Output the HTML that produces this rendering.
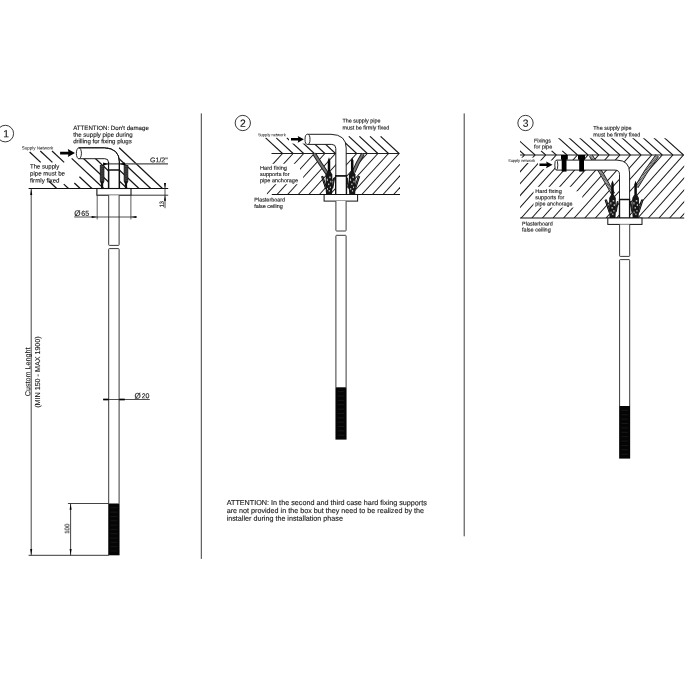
<!DOCTYPE html>
<html lang="en"><head><meta charset="utf-8"><title>Installation diagram</title>
<style>html,body{margin:0;padding:0;background:#fff;overflow:hidden}svg{display:block}</style>
</head><body>
<svg width="700" height="700" viewBox="0 0 700 700" font-family="'Liberation Sans', sans-serif" shape-rendering="geometricPrecision" text-rendering="geometricPrecision">
<defs><filter id="tf" x="0" y="0" width="700" height="700" filterUnits="userSpaceOnUse" color-interpolation-filters="sRGB"><feGaussianBlur stdDeviation="0.22"/></filter><clipPath id="c1"><rect x="27" y="147.8" width="141" height="40.9"/></clipPath><clipPath id="c2u"><rect x="262" y="136.0" width="140" height="17.5"/></clipPath><clipPath id="c2l"><rect x="266.8" y="153.5" width="133.2" height="41"/></clipPath><clipPath id="c3u"><rect x="520" y="138.3" width="165" height="16.7"/></clipPath><clipPath id="c3l"><rect x="520" y="155" width="164.2" height="63.2"/></clipPath></defs>
<rect width="700" height="700" fill="#fff"/>
<line x1="201.30" y1="113.40" x2="201.30" y2="558.90" stroke="#3c3c3c" stroke-width="1.0" />
<line x1="464.20" y1="113.40" x2="464.20" y2="536.30" stroke="#3c3c3c" stroke-width="1.0" />
<line x1="49.04" y1="181.30" x2="56.70" y2="188.50" stroke="#141414" stroke-width="1.2" />
<line x1="29.62" y1="152.00" x2="40.68" y2="162.40" stroke="#141414" stroke-width="1.2" />
<line x1="63.77" y1="184.10" x2="68.45" y2="188.50" stroke="#141414" stroke-width="1.2" />
<line x1="40.31" y1="151.00" x2="52.43" y2="162.40" stroke="#141414" stroke-width="1.2" />
<line x1="74.35" y1="183.00" x2="80.20" y2="188.50" stroke="#141414" stroke-width="1.2" />
<line x1="52.06" y1="151.00" x2="64.18" y2="162.40" stroke="#141414" stroke-width="1.2" />
<line x1="79.40" y1="176.70" x2="91.95" y2="188.50" stroke="#141414" stroke-width="1.2" />
<line x1="71.68" y1="158.40" x2="103.70" y2="188.50" stroke="#141414" stroke-width="1.2" />
<line x1="83.54" y1="158.50" x2="115.45" y2="188.50" stroke="#141414" stroke-width="1.2" />
<line x1="83.90" y1="147.80" x2="127.20" y2="188.50" stroke="#141414" stroke-width="1.2" />
<line x1="95.65" y1="147.80" x2="138.95" y2="188.50" stroke="#141414" stroke-width="1.2" />
<line x1="107.40" y1="147.80" x2="150.70" y2="188.50" stroke="#141414" stroke-width="1.2" />
<line x1="119.15" y1="147.80" x2="162.45" y2="188.50" stroke="#141414" stroke-width="1.2" />
<path d="M78.8,147.8 L104.5,147.8 Q119.4,148.4 119.4,162 L119.4,188.5 L108.5,188.5 L108.5,162.2 Q108.4,158.7 104.8,158.7 L78.8,158.7 Z" fill="#fff" stroke="none"/>
<path d="M78.8,147.8 L104.5,147.8 Q119.4,148.4 119.4,162 L119.4,188.5 M108.5,188.5 L108.5,162.2 Q108.4,158.7 104.8,158.7 L78.8,158.7" fill="none" stroke="#141414" stroke-width="0.95"/>
<ellipse cx="78.9" cy="153.3" rx="2.55" ry="5.5" fill="#fff" stroke="#141414" stroke-width="0.9"/>
<line x1="103.30" y1="163.90" x2="168.00" y2="163.90" stroke="#4a4a4a" stroke-width="1.1" />
<path d="M108.30,163.90 L103.10,165.40 L103.10,162.40 Z" fill="#000"/>
<path d="M119.60,163.90 L125.00,162.40 L125.00,165.40 Z" fill="#000"/>
<path d="M78.8,147.8 L104.5,147.8 Q119.4,148.4 119.4,162 L119.4,170" fill="none" stroke="#141414" stroke-width="0.95"/>
<path d="M108.6,188.5 L108.6,170 L119.4,170 L119.4,188.5" fill="#fff" stroke="#111" stroke-width="1.35"/>
<line x1="108.55" y1="162.00" x2="108.55" y2="188.50" stroke="#111" stroke-width="1.2" />
<line x1="119.40" y1="162.00" x2="119.40" y2="188.50" stroke="#111" stroke-width="1.2" />
<rect x="100.20" y="165.60" width="3.8" height="16.00" fill="#4a4a4a" stroke="#111" stroke-width="0.7"/>
<line x1="100.50" y1="167.10" x2="103.70" y2="167.90" stroke="#111" stroke-width="0.5"/>
<line x1="100.50" y1="168.80" x2="103.70" y2="169.60" stroke="#111" stroke-width="0.5"/>
<line x1="100.50" y1="170.50" x2="103.70" y2="171.30" stroke="#111" stroke-width="0.5"/>
<line x1="100.50" y1="172.20" x2="103.70" y2="173.00" stroke="#111" stroke-width="0.5"/>
<line x1="100.50" y1="173.90" x2="103.70" y2="174.70" stroke="#111" stroke-width="0.5"/>
<line x1="100.50" y1="175.60" x2="103.70" y2="176.40" stroke="#111" stroke-width="0.5"/>
<line x1="100.50" y1="177.30" x2="103.70" y2="178.10" stroke="#111" stroke-width="0.5"/>
<line x1="100.50" y1="179.00" x2="103.70" y2="179.80" stroke="#111" stroke-width="0.5"/>
<line x1="100.50" y1="180.70" x2="103.70" y2="181.50" stroke="#111" stroke-width="0.5"/>
<rect x="101.00" y="181.60" width="2.2" height="6.90" fill="#111"/>
<rect x="100.40" y="181.60" width="3.4" height="1.6" fill="#111"/>
<rect x="124.10" y="165.60" width="3.8" height="16.00" fill="#4a4a4a" stroke="#111" stroke-width="0.7"/>
<line x1="124.40" y1="167.10" x2="127.60" y2="167.90" stroke="#111" stroke-width="0.5"/>
<line x1="124.40" y1="168.80" x2="127.60" y2="169.60" stroke="#111" stroke-width="0.5"/>
<line x1="124.40" y1="170.50" x2="127.60" y2="171.30" stroke="#111" stroke-width="0.5"/>
<line x1="124.40" y1="172.20" x2="127.60" y2="173.00" stroke="#111" stroke-width="0.5"/>
<line x1="124.40" y1="173.90" x2="127.60" y2="174.70" stroke="#111" stroke-width="0.5"/>
<line x1="124.40" y1="175.60" x2="127.60" y2="176.40" stroke="#111" stroke-width="0.5"/>
<line x1="124.40" y1="177.30" x2="127.60" y2="178.10" stroke="#111" stroke-width="0.5"/>
<line x1="124.40" y1="179.00" x2="127.60" y2="179.80" stroke="#111" stroke-width="0.5"/>
<line x1="124.40" y1="180.70" x2="127.60" y2="181.50" stroke="#111" stroke-width="0.5"/>
<rect x="124.90" y="181.60" width="2.2" height="6.90" fill="#111"/>
<rect x="124.30" y="181.60" width="3.4" height="1.6" fill="#111"/>
<line x1="28.60" y1="188.50" x2="168.20" y2="188.50" stroke="#111" stroke-width="1.1" />
<rect x="96.90" y="188.50" width="34.10" height="6.70" fill="#fff" stroke="#111" stroke-width="1.1" />
<line x1="131.00" y1="195.20" x2="168.20" y2="195.20" stroke="#222" stroke-width="0.9" />
<line x1="97.20" y1="195.20" x2="97.20" y2="219.40" stroke="#333" stroke-width="0.8" />
<line x1="130.90" y1="195.20" x2="130.90" y2="219.40" stroke="#333" stroke-width="0.8" />
<path d="M108.7,195.2 L108.7,244.8 Q108.7,245.4 109.3,245.4 L118.5,245.4 Q119.1,245.4 119.1,244.8 L119.1,195.2" fill="#fff" stroke="#3a3a3a" stroke-width="1.0"/>
<path d="M108.7,503.5 L108.7,249.2 Q108.7,248.6 109.3,248.6 L118.5,248.6 Q119.1,248.6 119.1,249.2 L119.1,503.5" fill="#fff" stroke="#3a3a3a" stroke-width="1.0"/>
<rect x="108.25" y="503.50" width="11.30" height="51.80" fill="#050505"/>
<line x1="110.50" y1="507.82" x2="117.30" y2="507.82" stroke="#2b2b2b" stroke-width="0.5"/>
<line x1="110.50" y1="512.13" x2="117.30" y2="512.13" stroke="#2b2b2b" stroke-width="0.5"/>
<line x1="110.50" y1="516.45" x2="117.30" y2="516.45" stroke="#2b2b2b" stroke-width="0.5"/>
<line x1="110.50" y1="520.77" x2="117.30" y2="520.77" stroke="#2b2b2b" stroke-width="0.5"/>
<line x1="110.50" y1="525.08" x2="117.30" y2="525.08" stroke="#2b2b2b" stroke-width="0.5"/>
<line x1="110.50" y1="529.40" x2="117.30" y2="529.40" stroke="#2b2b2b" stroke-width="0.5"/>
<line x1="110.50" y1="533.72" x2="117.30" y2="533.72" stroke="#2b2b2b" stroke-width="0.5"/>
<line x1="110.50" y1="538.03" x2="117.30" y2="538.03" stroke="#2b2b2b" stroke-width="0.5"/>
<line x1="110.50" y1="542.35" x2="117.30" y2="542.35" stroke="#2b2b2b" stroke-width="0.5"/>
<line x1="110.50" y1="546.67" x2="117.30" y2="546.67" stroke="#2b2b2b" stroke-width="0.5"/>
<line x1="110.50" y1="550.98" x2="117.30" y2="550.98" stroke="#2b2b2b" stroke-width="0.5"/>
<line x1="74.30" y1="217.00" x2="136.20" y2="217.00" stroke="#222" stroke-width="0.8" />
<path d="M97.20,217.00 L91.60,218.00 L91.60,216.00 Z" fill="#000"/>
<path d="M130.90,217.00 L136.50,216.00 L136.50,218.00 Z" fill="#000"/>
<line x1="165.00" y1="183.20" x2="165.00" y2="208.20" stroke="#222" stroke-width="0.8" />
<path d="M165.00,188.50 L164.00,182.90 L166.00,182.90 Z" fill="#000"/>
<path d="M165.00,195.20 L166.00,200.80 L164.00,200.80 Z" fill="#000"/>
<line x1="31.20" y1="188.50" x2="31.20" y2="555.30" stroke="#222" stroke-width="0.85" />
<path d="M31.20,188.90 L32.20,194.90 L30.20,194.90 Z" fill="#000"/>
<path d="M31.20,555.00 L30.20,549.00 L32.20,549.00 Z" fill="#000"/>
<line x1="28.60" y1="555.30" x2="108.80" y2="555.30" stroke="#222" stroke-width="0.9" />
<line x1="67.90" y1="503.50" x2="108.80" y2="503.50" stroke="#222" stroke-width="0.85" />
<line x1="70.60" y1="503.50" x2="70.60" y2="555.30" stroke="#222" stroke-width="0.85" />
<path d="M70.60,503.80 L71.60,509.80 L69.60,509.80 Z" fill="#000"/>
<path d="M70.60,555.00 L69.60,549.00 L71.60,549.00 Z" fill="#000"/>
<line x1="103.20" y1="399.50" x2="149.80" y2="399.50" stroke="#222" stroke-width="0.8" />
<line x1="103.20" y1="399.50" x2="108.60" y2="399.50" stroke="#000" stroke-width="1.7" />
<line x1="119.30" y1="399.50" x2="124.80" y2="399.50" stroke="#000" stroke-width="1.7" />
<path d="M60.10,151.70 L68.40,151.70 L67.80,149.10 L75.00,153.10 L67.80,157.10 L68.40,154.50 L60.10,154.50 Z" fill="#000"/>
<circle cx="5.3" cy="133.6" r="8.3" fill="#fff" stroke="#222" stroke-width="0.9"/>
<g clip-path="url(#c2u)">
<line x1="265.62" y1="137.80" x2="282.50" y2="153.50" stroke="#141414" stroke-width="1.05" />
<line x1="276.22" y1="137.80" x2="293.10" y2="153.50" stroke="#141414" stroke-width="1.05" />
<line x1="286.82" y1="137.80" x2="303.70" y2="153.50" stroke="#141414" stroke-width="1.05" />
<line x1="295.81" y1="136.30" x2="314.30" y2="153.50" stroke="#141414" stroke-width="1.05" />
<line x1="306.41" y1="136.30" x2="324.90" y2="153.50" stroke="#141414" stroke-width="1.05" />
<line x1="317.01" y1="136.30" x2="335.50" y2="153.50" stroke="#141414" stroke-width="1.05" />
<line x1="327.61" y1="136.30" x2="346.10" y2="153.50" stroke="#141414" stroke-width="1.05" />
<line x1="338.21" y1="136.30" x2="356.70" y2="153.50" stroke="#141414" stroke-width="1.05" />
<line x1="348.81" y1="136.30" x2="367.30" y2="153.50" stroke="#141414" stroke-width="1.05" />
<line x1="359.41" y1="136.30" x2="377.90" y2="153.50" stroke="#141414" stroke-width="1.05" />
<line x1="370.01" y1="136.30" x2="388.50" y2="153.50" stroke="#141414" stroke-width="1.05" />
<line x1="380.61" y1="136.30" x2="399.10" y2="153.50" stroke="#141414" stroke-width="1.05" />
</g>
<g clip-path="url(#c2l)">
<line x1="282.50" y1="153.50" x2="245.23" y2="194.50" stroke="#141414" stroke-width="1.05" />
<line x1="293.10" y1="153.50" x2="255.83" y2="194.50" stroke="#141414" stroke-width="1.05" />
<line x1="303.70" y1="153.50" x2="266.43" y2="194.50" stroke="#141414" stroke-width="1.05" />
<line x1="314.30" y1="153.50" x2="277.03" y2="194.50" stroke="#141414" stroke-width="1.05" />
<line x1="324.90" y1="153.50" x2="287.63" y2="194.50" stroke="#141414" stroke-width="1.05" />
<line x1="335.50" y1="153.50" x2="298.23" y2="194.50" stroke="#141414" stroke-width="1.05" />
<line x1="346.10" y1="153.50" x2="308.83" y2="194.50" stroke="#141414" stroke-width="1.05" />
<line x1="356.70" y1="153.50" x2="319.43" y2="194.50" stroke="#141414" stroke-width="1.05" />
<line x1="367.30" y1="153.50" x2="330.03" y2="194.50" stroke="#141414" stroke-width="1.05" />
<line x1="377.90" y1="153.50" x2="340.63" y2="194.50" stroke="#141414" stroke-width="1.05" />
<line x1="388.50" y1="153.50" x2="351.23" y2="194.50" stroke="#141414" stroke-width="1.05" />
<line x1="399.10" y1="153.50" x2="361.83" y2="194.50" stroke="#141414" stroke-width="1.05" />
<line x1="409.70" y1="153.50" x2="372.43" y2="194.50" stroke="#141414" stroke-width="1.05" />
<line x1="420.30" y1="153.50" x2="383.03" y2="194.50" stroke="#141414" stroke-width="1.05" />
<line x1="430.90" y1="153.50" x2="393.63" y2="194.50" stroke="#141414" stroke-width="1.05" />
<line x1="441.50" y1="153.50" x2="404.23" y2="194.50" stroke="#141414" stroke-width="1.05" />
</g>
<line x1="271.50" y1="153.50" x2="399.60" y2="153.50" stroke="#141414" stroke-width="0.95" />
<rect x="256.00" y="131.50" width="31.50" height="5.90" fill="#fff"/>
<rect x="289.00" y="135.00" width="15.50" height="8.60" fill="#fff"/>
<rect x="258.00" y="163.80" width="42.00" height="20.40" fill="#fff"/>
<rect x="299.00" y="171.50" width="4.20" height="12.70" fill="#fff"/>
<path d="M314.20,153.80 Q320.38,164.08 327.40,173.80" fill="none" stroke="#1a1a1a" stroke-width="3.90"/>
<path d="M314.20,153.80 Q320.38,164.08 327.40,173.80" fill="none" stroke="#747474" stroke-width="2.10"/>
<path d="M363.00,153.80 Q357.59,162.53 353.60,172.00" fill="none" stroke="#1a1a1a" stroke-width="3.90"/>
<path d="M363.00,153.80 Q357.59,162.53 353.60,172.00" fill="none" stroke="#747474" stroke-width="2.10"/>
<path d="M307.5,134.3 L331,134.3 Q346.2,134.6 346.2,148 L346.2,176 L335.8,176 L335.8,148.4 Q335.8,144.4 331.8,144.4 L307.5,144.4 Z" fill="#fff"/>
<path d="M307.5,134.3 L331,134.3 Q346.2,134.6 346.2,148 L346.2,176 M335.8,176 L335.8,148.4 Q335.8,144.4 331.8,144.4 L307.5,144.4" fill="none" stroke="#141414" stroke-width="0.95"/>
<ellipse cx="307.5" cy="139.35" rx="2.5" ry="5.1" fill="#fff" stroke="#141414" stroke-width="0.9"/>
<path d="M335.7,194.5 L335.7,176 L346.4,176 L346.4,194.5" fill="#fff" stroke="#111" stroke-width="1.35"/>
<path d="M329.00,157.30 L330.25,160.70 L330.25,172.40 L327.75,172.40 L327.75,160.70 Z" fill="#0a0a0a"/>
<path d="M327.40,171.40 L330.60,171.40 L332.30,174.60 L332.40,188.50 L331.90,194.50 L326.10,194.50 L325.60,188.50 L325.70,174.60 Z" fill="#161616"/>
<rect x="329.20" y="176.50" width="1.5" height="1.6" fill="#b9b9b9"/>
<rect x="326.80" y="178.70" width="1.1" height="2.2" fill="#b9b9b9"/>
<rect x="330.20" y="180.70" width="1.2" height="1.8" fill="#b9b9b9"/>
<rect x="328.00" y="183.50" width="1.3" height="1.6" fill="#b9b9b9"/>
<rect x="329.80" y="186.50" width="1.2" height="1.6" fill="#b9b9b9"/>
<rect x="327.00" y="188.00" width="1.0" height="1.8" fill="#b9b9b9"/>
<rect x="328.70" y="190.00" width="1.2" height="1.6" fill="#b9b9b9"/>
<path d="M321.60,176.60 L323.00,176.30 L326.40,187.70 L325.60,188.90 Z" fill="#7a7a7a" stroke="#0d0d0d" stroke-width="1.0"/>
<path d="M334.60,178.20 L333.70,178.00 L332.20,188.00 L332.80,188.30 Z" fill="#6a6a6a" stroke="#0d0d0d" stroke-width="0.9"/>
<path d="M352.20,157.30 L353.45,160.70 L353.45,172.40 L350.95,172.40 L350.95,160.70 Z" fill="#0a0a0a"/>
<path d="M350.60,171.40 L353.80,171.40 L355.50,174.60 L355.60,188.50 L355.10,194.50 L349.30,194.50 L348.80,188.50 L348.90,174.60 Z" fill="#161616"/>
<rect x="352.40" y="176.50" width="1.5" height="1.6" fill="#b9b9b9"/>
<rect x="350.00" y="178.70" width="1.1" height="2.2" fill="#b9b9b9"/>
<rect x="353.40" y="180.70" width="1.2" height="1.8" fill="#b9b9b9"/>
<rect x="351.20" y="183.50" width="1.3" height="1.6" fill="#b9b9b9"/>
<rect x="353.00" y="186.50" width="1.2" height="1.6" fill="#b9b9b9"/>
<rect x="350.20" y="188.00" width="1.0" height="1.8" fill="#b9b9b9"/>
<rect x="351.90" y="190.00" width="1.2" height="1.6" fill="#b9b9b9"/>
<path d="M359.60,176.60 L358.20,176.30 L354.80,187.70 L355.60,188.90 Z" fill="#7a7a7a" stroke="#0d0d0d" stroke-width="1.0"/>
<path d="M346.60,178.20 L347.50,178.00 L349.00,188.00 L348.40,188.30 Z" fill="#6a6a6a" stroke="#0d0d0d" stroke-width="0.9"/>
<path d="M335.7,194.5 L335.7,176 L346.4,176 L346.4,194.5" fill="#fff" stroke="#111" stroke-width="1.35"/>
<line x1="271.80" y1="194.50" x2="400.00" y2="194.50" stroke="#111" stroke-width="1.1" />
<rect x="324.10" y="194.50" width="33.50" height="6.60" fill="#fff" stroke="#111" stroke-width="1.0" />
<path d="M335.9,201.1 L335.9,230.4 Q335.9,231.0 336.5,231.0 L345.5,231.0 Q346.1,231.0 346.1,230.4 L346.1,201.1" fill="#fff" stroke="#3a3a3a" stroke-width="1.0"/>
<path d="M335.9,387.3 L335.9,235.9 Q335.9,235.3 336.5,235.3 L345.5,235.3 Q346.1,235.3 346.1,235.9 L346.1,387.3" fill="#fff" stroke="#3a3a3a" stroke-width="1.0"/>
<rect x="335.45" y="387.30" width="11.10" height="52.30" fill="#050505"/>
<line x1="337.70" y1="391.66" x2="344.30" y2="391.66" stroke="#2b2b2b" stroke-width="0.5"/>
<line x1="337.70" y1="396.02" x2="344.30" y2="396.02" stroke="#2b2b2b" stroke-width="0.5"/>
<line x1="337.70" y1="400.38" x2="344.30" y2="400.38" stroke="#2b2b2b" stroke-width="0.5"/>
<line x1="337.70" y1="404.73" x2="344.30" y2="404.73" stroke="#2b2b2b" stroke-width="0.5"/>
<line x1="337.70" y1="409.09" x2="344.30" y2="409.09" stroke="#2b2b2b" stroke-width="0.5"/>
<line x1="337.70" y1="413.45" x2="344.30" y2="413.45" stroke="#2b2b2b" stroke-width="0.5"/>
<line x1="337.70" y1="417.81" x2="344.30" y2="417.81" stroke="#2b2b2b" stroke-width="0.5"/>
<line x1="337.70" y1="422.17" x2="344.30" y2="422.17" stroke="#2b2b2b" stroke-width="0.5"/>
<line x1="337.70" y1="426.53" x2="344.30" y2="426.53" stroke="#2b2b2b" stroke-width="0.5"/>
<line x1="337.70" y1="430.88" x2="344.30" y2="430.88" stroke="#2b2b2b" stroke-width="0.5"/>
<line x1="337.70" y1="435.24" x2="344.30" y2="435.24" stroke="#2b2b2b" stroke-width="0.5"/>
<path d="M291.00,138.10 L298.30,138.10 L297.70,135.90 L303.90,139.30 L297.70,142.70 L298.30,140.50 L291.00,140.50 Z" fill="#000"/>
<circle cx="242.8" cy="123.0" r="7.65" fill="#fff" stroke="#222" stroke-width="0.9"/>
<g clip-path="url(#c3u)">
<line x1="505.06" y1="137.50" x2="524.50" y2="155.00" stroke="#141414" stroke-width="1.05" />
<line x1="515.66" y1="137.50" x2="535.10" y2="155.00" stroke="#141414" stroke-width="1.05" />
<line x1="541.03" y1="150.80" x2="545.70" y2="155.00" stroke="#141414" stroke-width="1.05" />
<line x1="551.63" y1="150.80" x2="556.30" y2="155.00" stroke="#141414" stroke-width="1.05" />
<line x1="562.23" y1="150.80" x2="566.90" y2="155.00" stroke="#141414" stroke-width="1.05" />
<line x1="558.06" y1="137.50" x2="577.50" y2="155.00" stroke="#141414" stroke-width="1.05" />
<line x1="568.66" y1="137.50" x2="588.10" y2="155.00" stroke="#141414" stroke-width="1.05" />
<line x1="579.26" y1="137.50" x2="598.70" y2="155.00" stroke="#141414" stroke-width="1.05" />
<line x1="589.86" y1="137.50" x2="609.30" y2="155.00" stroke="#141414" stroke-width="1.05" />
<line x1="600.46" y1="137.50" x2="619.90" y2="155.00" stroke="#141414" stroke-width="1.05" />
<line x1="611.06" y1="137.50" x2="630.50" y2="155.00" stroke="#141414" stroke-width="1.05" />
<line x1="621.66" y1="137.50" x2="641.10" y2="155.00" stroke="#141414" stroke-width="1.05" />
<line x1="632.26" y1="137.50" x2="651.70" y2="155.00" stroke="#141414" stroke-width="1.05" />
<line x1="642.86" y1="137.50" x2="662.30" y2="155.00" stroke="#141414" stroke-width="1.05" />
<line x1="653.46" y1="137.50" x2="672.90" y2="155.00" stroke="#141414" stroke-width="1.05" />
<line x1="664.06" y1="137.50" x2="683.50" y2="155.00" stroke="#141414" stroke-width="1.05" />
</g>
<g clip-path="url(#c3l)">
<line x1="524.50" y1="155.00" x2="468.25" y2="218.00" stroke="#141414" stroke-width="1.05" />
<line x1="535.10" y1="155.00" x2="478.85" y2="218.00" stroke="#141414" stroke-width="1.05" />
<line x1="545.70" y1="155.00" x2="489.45" y2="218.00" stroke="#141414" stroke-width="1.05" />
<line x1="556.30" y1="155.00" x2="500.05" y2="218.00" stroke="#141414" stroke-width="1.05" />
<line x1="566.90" y1="155.00" x2="510.65" y2="218.00" stroke="#141414" stroke-width="1.05" />
<line x1="577.50" y1="155.00" x2="521.25" y2="218.00" stroke="#141414" stroke-width="1.05" />
<line x1="588.10" y1="155.00" x2="531.85" y2="218.00" stroke="#141414" stroke-width="1.05" />
<line x1="598.70" y1="155.00" x2="542.45" y2="218.00" stroke="#141414" stroke-width="1.05" />
<line x1="609.30" y1="155.00" x2="553.05" y2="218.00" stroke="#141414" stroke-width="1.05" />
<line x1="619.90" y1="155.00" x2="563.65" y2="218.00" stroke="#141414" stroke-width="1.05" />
<line x1="630.50" y1="155.00" x2="574.25" y2="218.00" stroke="#141414" stroke-width="1.05" />
<line x1="641.10" y1="155.00" x2="584.85" y2="218.00" stroke="#141414" stroke-width="1.05" />
<line x1="651.70" y1="155.00" x2="595.45" y2="218.00" stroke="#141414" stroke-width="1.05" />
<line x1="662.30" y1="155.00" x2="606.05" y2="218.00" stroke="#141414" stroke-width="1.05" />
<line x1="672.90" y1="155.00" x2="616.65" y2="218.00" stroke="#141414" stroke-width="1.05" />
<line x1="683.50" y1="155.00" x2="627.25" y2="218.00" stroke="#141414" stroke-width="1.05" />
<line x1="694.10" y1="155.00" x2="637.85" y2="218.00" stroke="#141414" stroke-width="1.05" />
<line x1="704.70" y1="155.00" x2="648.45" y2="218.00" stroke="#141414" stroke-width="1.05" />
<line x1="715.30" y1="155.00" x2="659.05" y2="218.00" stroke="#141414" stroke-width="1.05" />
<line x1="725.90" y1="155.00" x2="669.65" y2="218.00" stroke="#141414" stroke-width="1.05" />
<line x1="736.50" y1="155.00" x2="680.25" y2="218.00" stroke="#141414" stroke-width="1.05" />
<line x1="747.10" y1="155.00" x2="690.85" y2="218.00" stroke="#141414" stroke-width="1.05" />
</g>
<line x1="520.00" y1="155.00" x2="683.80" y2="155.00" stroke="#141414" stroke-width="0.95" />
<rect x="506.00" y="157.60" width="30.00" height="5.40" fill="#fff"/>
<rect x="538.00" y="160.50" width="15.50" height="8.70" fill="#fff"/>
<rect x="533.50" y="186.80" width="41.00" height="20.80" fill="#fff"/>
<rect x="574.00" y="191.30" width="8.30" height="16.30" fill="#fff"/>
<path d="M590.80,155.50 Q602.43,174.50 613.20,194.00" fill="none" stroke="#1a1a1a" stroke-width="4.10"/>
<path d="M590.80,155.50 Q602.43,174.50 613.20,194.00" fill="none" stroke="#747474" stroke-width="2.30"/>
<path d="M590.80,155.50 Q602.43,174.50 613.20,194.00" fill="none" stroke="#c4c4c4" stroke-width="2.30"/>
<path d="M590.80,155.50 Q602.43,174.50 613.20,194.00" fill="none" stroke="#1a1a1a" stroke-width="2.30" stroke-dasharray="0.55 0.9"/>
<path d="M657.30,155.50 Q645.90,170.59 636.50,187.00" fill="none" stroke="#1a1a1a" stroke-width="4.10"/>
<path d="M657.30,155.50 Q645.90,170.59 636.50,187.00" fill="none" stroke="#747474" stroke-width="2.30"/>
<path d="M657.30,155.50 Q645.90,170.59 636.50,187.00" fill="none" stroke="#c4c4c4" stroke-width="2.30"/>
<path d="M657.30,155.50 Q645.90,170.59 636.50,187.00" fill="none" stroke="#1a1a1a" stroke-width="2.30" stroke-dasharray="0.55 0.9"/>
<path d="M556.3,160.1 L617,160.1 Q629.6,160.4 629.6,173 L629.6,199.5 L619.5,199.5 L619.5,174.5 Q619.5,170.1 615,170.1 L556.3,170.1 Z" fill="#fff"/>
<path d="M556.3,160.1 L617,160.1 Q629.6,160.4 629.6,173 L629.6,199.5 M619.5,199.5 L619.5,174.5 Q619.5,170.1 615,170.1 L556.3,170.1" fill="none" stroke="#141414" stroke-width="0.95"/>
<ellipse cx="556.3" cy="165.1" rx="1.5" ry="5.0" fill="#fff" stroke="#141414" stroke-width="0.9"/>
<rect x="561.0" y="155.0" width="6.80" height="4.6" fill="#000"/>
<rect x="561.7" y="155.0" width="4.80" height="16.6" fill="#000"/>
<rect x="578.0" y="155.0" width="7.00" height="4.6" fill="#000"/>
<rect x="579.2" y="155.0" width="4.80" height="16.6" fill="#000"/>
<path d="M612.50,180.30 L613.75,183.70 L613.75,195.90 L611.25,195.90 L611.25,183.70 Z" fill="#0a0a0a"/>
<path d="M610.90,194.90 L614.10,194.90 L615.80,198.10 L615.90,212.00 L615.40,218.00 L609.60,218.00 L609.10,212.00 L609.20,198.10 Z" fill="#161616"/>
<rect x="612.70" y="200.00" width="1.5" height="1.6" fill="#b9b9b9"/>
<rect x="610.30" y="202.20" width="1.1" height="2.2" fill="#b9b9b9"/>
<rect x="613.70" y="204.20" width="1.2" height="1.8" fill="#b9b9b9"/>
<rect x="611.50" y="207.00" width="1.3" height="1.6" fill="#b9b9b9"/>
<rect x="613.30" y="210.00" width="1.2" height="1.6" fill="#b9b9b9"/>
<rect x="610.50" y="211.50" width="1.0" height="1.8" fill="#b9b9b9"/>
<rect x="612.20" y="213.50" width="1.2" height="1.6" fill="#b9b9b9"/>
<path d="M605.10,200.10 L606.50,199.80 L609.90,211.20 L609.10,212.40 Z" fill="#7a7a7a" stroke="#0d0d0d" stroke-width="1.0"/>
<path d="M618.10,201.70 L617.20,201.50 L615.70,211.50 L616.30,211.80 Z" fill="#6a6a6a" stroke="#0d0d0d" stroke-width="0.9"/>
<path d="M635.60,180.80 L636.85,184.20 L636.85,195.90 L634.35,195.90 L634.35,184.20 Z" fill="#0a0a0a"/>
<path d="M634.00,194.90 L637.20,194.90 L638.90,198.10 L639.00,212.00 L638.50,218.00 L632.70,218.00 L632.20,212.00 L632.30,198.10 Z" fill="#161616"/>
<rect x="635.80" y="200.00" width="1.5" height="1.6" fill="#b9b9b9"/>
<rect x="633.40" y="202.20" width="1.1" height="2.2" fill="#b9b9b9"/>
<rect x="636.80" y="204.20" width="1.2" height="1.8" fill="#b9b9b9"/>
<rect x="634.60" y="207.00" width="1.3" height="1.6" fill="#b9b9b9"/>
<rect x="636.40" y="210.00" width="1.2" height="1.6" fill="#b9b9b9"/>
<rect x="633.60" y="211.50" width="1.0" height="1.8" fill="#b9b9b9"/>
<rect x="635.30" y="213.50" width="1.2" height="1.6" fill="#b9b9b9"/>
<path d="M643.00,200.10 L641.60,199.80 L638.20,211.20 L639.00,212.40 Z" fill="#7a7a7a" stroke="#0d0d0d" stroke-width="1.0"/>
<path d="M630.00,201.70 L630.90,201.50 L632.40,211.50 L631.80,211.80 Z" fill="#6a6a6a" stroke="#0d0d0d" stroke-width="0.9"/>
<path d="M619.5,218 L619.5,199.5 L629.6,199.5 L629.6,218" fill="#fff" stroke="#111" stroke-width="1.35"/>
<line x1="520.00" y1="218.00" x2="684.20" y2="218.00" stroke="#111" stroke-width="1.1" />
<rect x="607.80" y="218.00" width="34.20" height="6.40" fill="#fff" stroke="#111" stroke-width="1.0" />
<path d="M619.6,224.4 L619.6,255.79999999999998 Q619.6,256.4 620.2,256.4 L629.1,256.4 Q629.7,256.4 629.7,255.79999999999998 L629.7,224.4" fill="#fff" stroke="#3a3a3a" stroke-width="1.0"/>
<path d="M619.6,406.0 L619.6,260.20000000000005 Q619.6,259.6 620.2,259.6 L629.1,259.6 Q629.7,259.6 629.7,260.20000000000005 L629.7,406.0" fill="#fff" stroke="#3a3a3a" stroke-width="1.0"/>
<rect x="619.15" y="406.00" width="11.00" height="52.60" fill="#050505"/>
<line x1="621.40" y1="410.38" x2="627.90" y2="410.38" stroke="#2b2b2b" stroke-width="0.5"/>
<line x1="621.40" y1="414.77" x2="627.90" y2="414.77" stroke="#2b2b2b" stroke-width="0.5"/>
<line x1="621.40" y1="419.15" x2="627.90" y2="419.15" stroke="#2b2b2b" stroke-width="0.5"/>
<line x1="621.40" y1="423.53" x2="627.90" y2="423.53" stroke="#2b2b2b" stroke-width="0.5"/>
<line x1="621.40" y1="427.92" x2="627.90" y2="427.92" stroke="#2b2b2b" stroke-width="0.5"/>
<line x1="621.40" y1="432.30" x2="627.90" y2="432.30" stroke="#2b2b2b" stroke-width="0.5"/>
<line x1="621.40" y1="436.68" x2="627.90" y2="436.68" stroke="#2b2b2b" stroke-width="0.5"/>
<line x1="621.40" y1="441.07" x2="627.90" y2="441.07" stroke="#2b2b2b" stroke-width="0.5"/>
<line x1="621.40" y1="445.45" x2="627.90" y2="445.45" stroke="#2b2b2b" stroke-width="0.5"/>
<line x1="621.40" y1="449.83" x2="627.90" y2="449.83" stroke="#2b2b2b" stroke-width="0.5"/>
<line x1="621.40" y1="454.22" x2="627.90" y2="454.22" stroke="#2b2b2b" stroke-width="0.5"/>
<path d="M539.50,163.55 L546.70,163.55 L546.10,161.40 L552.50,164.80 L546.10,168.20 L546.70,166.05 L539.50,166.05 Z" fill="#000"/>
<circle cx="525.5" cy="123.0" r="7.65" fill="#fff" stroke="#222" stroke-width="0.9"/>
<g filter="url(#tf)" stroke="#1c1c1c" stroke-width="0.14">
<text x="74.20" y="216.00" font-size="8.0" text-anchor="start" fill="#1c1c1c" font-weight="normal" textLength="6.30" lengthAdjust="spacingAndGlyphs" transform="rotate(0.04 74.20 216.00)" >Ø</text>
<text x="81.30" y="215.80" font-size="7.0" text-anchor="start" fill="#1c1c1c" font-weight="normal" textLength="7.80" lengthAdjust="spacingAndGlyphs" transform="rotate(0.04 81.30 215.80)" >65</text>
<text x="163.70" y="207.30" font-size="6.0" text-anchor="start" fill="#1c1c1c" font-weight="normal" textLength="6.30" lengthAdjust="spacingAndGlyphs" transform="rotate(-89.96 163.70 207.30)" >13</text>
<text x="150.00" y="162.30" font-size="6.7" text-anchor="start" fill="#1c1c1c" font-weight="normal" textLength="17.80" lengthAdjust="spacingAndGlyphs" transform="rotate(0.04 150.00 162.30)" >G1/2"</text>
<text x="69.20" y="533.90" font-size="6.3" text-anchor="start" fill="#1c1c1c" font-weight="normal" textLength="10.30" lengthAdjust="spacingAndGlyphs" transform="rotate(-89.96 69.20 533.90)" >100</text>
<text x="134.50" y="398.50" font-size="8.0" text-anchor="start" fill="#1c1c1c" font-weight="normal" textLength="6.30" lengthAdjust="spacingAndGlyphs" transform="rotate(0.04 134.50 398.50)" >Ø</text>
<text x="141.70" y="398.30" font-size="7.0" text-anchor="start" fill="#1c1c1c" font-weight="normal" textLength="7.80" lengthAdjust="spacingAndGlyphs" transform="rotate(0.04 141.70 398.30)" >20</text>
<text x="30.30" y="396.30" font-size="7.2" text-anchor="start" fill="#1c1c1c" font-weight="normal" textLength="48.90" lengthAdjust="spacingAndGlyphs" transform="rotate(-89.96 30.30 396.30)" >Custom Lenght</text>
<text x="40.00" y="407.80" font-size="7.15" text-anchor="start" fill="#1c1c1c" font-weight="normal" textLength="71.50" lengthAdjust="spacingAndGlyphs" transform="rotate(-89.96 40.00 407.80)" >(MIN 150 - MAX 1900)</text>
<text x="21.70" y="149.60" font-size="4.5" text-anchor="start" fill="#1c1c1c" font-weight="normal" textLength="31.60" lengthAdjust="spacingAndGlyphs" transform="rotate(0.04 21.70 149.60)"  stroke-width="0.04">Supply Network</text>
<text x="30.00" y="168.40" font-size="6.1" text-anchor="start" fill="#1c1c1c" font-weight="normal" textLength="29.30" lengthAdjust="spacingAndGlyphs" transform="rotate(0.04 30.00 168.40)" >The supply</text>
<text x="30.00" y="175.60" font-size="6.1" text-anchor="start" fill="#1c1c1c" font-weight="normal" textLength="35.00" lengthAdjust="spacingAndGlyphs" transform="rotate(0.04 30.00 175.60)" >pipe must be</text>
<text x="30.00" y="182.40" font-size="6.1" text-anchor="start" fill="#1c1c1c" font-weight="normal" textLength="29.50" lengthAdjust="spacingAndGlyphs" transform="rotate(0.04 30.00 182.40)" >firmly fixed</text>
<text x="73.20" y="130.00" font-size="6.1" text-anchor="start" fill="#1c1c1c" font-weight="normal" textLength="75.60" lengthAdjust="spacingAndGlyphs" transform="rotate(0.04 73.20 130.00)" >ATTENTION: Don't damage</text>
<text x="73.20" y="136.70" font-size="6.1" text-anchor="start" fill="#1c1c1c" font-weight="normal" textLength="59.50" lengthAdjust="spacingAndGlyphs" transform="rotate(0.04 73.20 136.70)" >the supply pipe during</text>
<text x="73.20" y="143.20" font-size="6.1" text-anchor="start" fill="#1c1c1c" font-weight="normal" textLength="58.50" lengthAdjust="spacingAndGlyphs" transform="rotate(0.04 73.20 143.20)" >drilling for fixing plugs</text>
<text x="6.20" y="137.31" font-size="10.3" text-anchor="middle" fill="#111" font-weight="normal" transform="rotate(0.04 6.20 137.31)" >1</text>
<text x="257.90" y="136.20" font-size="4.05" text-anchor="start" fill="#1c1c1c" font-weight="normal" textLength="27.80" lengthAdjust="spacingAndGlyphs" transform="rotate(0.04 257.90 136.20)"  stroke-width="0.04">Supply network</text>
<text x="260.00" y="169.70" font-size="5.5" text-anchor="start" fill="#1c1c1c" font-weight="normal" textLength="27.00" lengthAdjust="spacingAndGlyphs" transform="rotate(0.04 260.00 169.70)" >Hard fixing</text>
<text x="260.00" y="176.00" font-size="5.5" text-anchor="start" fill="#1c1c1c" font-weight="normal" textLength="29.50" lengthAdjust="spacingAndGlyphs" transform="rotate(0.04 260.00 176.00)" >supports for</text>
<text x="260.00" y="182.20" font-size="5.5" text-anchor="start" fill="#1c1c1c" font-weight="normal" textLength="38.00" lengthAdjust="spacingAndGlyphs" transform="rotate(0.04 260.00 182.20)" >pipe anchorage</text>
<text x="254.30" y="201.40" font-size="5.5" text-anchor="start" fill="#1c1c1c" font-weight="normal" textLength="30.80" lengthAdjust="spacingAndGlyphs" transform="rotate(0.04 254.30 201.40)" >Plasterboard</text>
<text x="254.30" y="207.90" font-size="5.5" text-anchor="start" fill="#1c1c1c" font-weight="normal" textLength="28.50" lengthAdjust="spacingAndGlyphs" transform="rotate(0.04 254.30 207.90)" >false ceiling</text>
<text x="342.40" y="122.60" font-size="5.5" text-anchor="start" fill="#1c1c1c" font-weight="normal" textLength="38.00" lengthAdjust="spacingAndGlyphs" transform="rotate(0.04 342.40 122.60)" >The supply pipe</text>
<text x="342.40" y="129.60" font-size="5.5" text-anchor="start" fill="#1c1c1c" font-weight="normal" textLength="47.00" lengthAdjust="spacingAndGlyphs" transform="rotate(0.04 342.40 129.60)" >must be firmly fixed</text>
<text x="242.80" y="126.71" font-size="10.3" text-anchor="middle" fill="#111" font-weight="normal" transform="rotate(0.04 242.80 126.71)" >2</text>
<text x="226.70" y="505.00" font-size="7.2" text-anchor="start" fill="#1c1c1c" font-weight="normal" textLength="200.20" lengthAdjust="spacingAndGlyphs" transform="rotate(0.04 226.70 505.00)" >ATTENTION: In the second and third case hard fixing supports</text>
<text x="226.70" y="512.90" font-size="7.2" text-anchor="start" fill="#1c1c1c" font-weight="normal" textLength="197.30" lengthAdjust="spacingAndGlyphs" transform="rotate(0.04 226.70 512.90)" >are not provided in the box but they need to be realized by the</text>
<text x="226.70" y="520.70" font-size="7.2" text-anchor="start" fill="#1c1c1c" font-weight="normal" textLength="116.20" lengthAdjust="spacingAndGlyphs" transform="rotate(0.04 226.70 520.70)" >installer during the installation phase</text>
<text x="534.00" y="142.50" font-size="5.5" text-anchor="start" fill="#1c1c1c" font-weight="normal" textLength="17.00" lengthAdjust="spacingAndGlyphs" transform="rotate(0.04 534.00 142.50)" >Fixings</text>
<text x="534.00" y="148.60" font-size="5.5" text-anchor="start" fill="#1c1c1c" font-weight="normal" textLength="18.20" lengthAdjust="spacingAndGlyphs" transform="rotate(0.04 534.00 148.60)" >for pipe</text>
<text x="508.00" y="162.00" font-size="4.0" text-anchor="start" fill="#1c1c1c" font-weight="normal" textLength="27.00" lengthAdjust="spacingAndGlyphs" transform="rotate(0.04 508.00 162.00)"  stroke-width="0.04">Supply network</text>
<text x="535.30" y="193.10" font-size="5.5" text-anchor="start" fill="#1c1c1c" font-weight="normal" textLength="26.50" lengthAdjust="spacingAndGlyphs" transform="rotate(0.04 535.30 193.10)" >Hard fixing</text>
<text x="535.30" y="199.30" font-size="5.5" text-anchor="start" fill="#1c1c1c" font-weight="normal" textLength="29.00" lengthAdjust="spacingAndGlyphs" transform="rotate(0.04 535.30 199.30)" >supports for</text>
<text x="535.30" y="205.40" font-size="5.5" text-anchor="start" fill="#1c1c1c" font-weight="normal" textLength="37.20" lengthAdjust="spacingAndGlyphs" transform="rotate(0.04 535.30 205.40)" >pipe anchorage</text>
<text x="522.10" y="225.40" font-size="5.5" text-anchor="start" fill="#1c1c1c" font-weight="normal" textLength="30.80" lengthAdjust="spacingAndGlyphs" transform="rotate(0.04 522.10 225.40)" >Plasterboard</text>
<text x="522.10" y="231.50" font-size="5.5" text-anchor="start" fill="#1c1c1c" font-weight="normal" textLength="28.60" lengthAdjust="spacingAndGlyphs" transform="rotate(0.04 522.10 231.50)" >false ceiling</text>
<text x="593.30" y="129.80" font-size="5.5" text-anchor="start" fill="#1c1c1c" font-weight="normal" textLength="38.30" lengthAdjust="spacingAndGlyphs" transform="rotate(0.04 593.30 129.80)" >The supply pipe</text>
<text x="593.30" y="136.50" font-size="5.5" text-anchor="start" fill="#1c1c1c" font-weight="normal" textLength="47.00" lengthAdjust="spacingAndGlyphs" transform="rotate(0.04 593.30 136.50)" >must be firmly fixed</text>
<text x="525.50" y="126.71" font-size="10.3" text-anchor="middle" fill="#111" font-weight="normal" transform="rotate(0.04 525.50 126.71)" >3</text>
</g>
</svg>
</body></html>
